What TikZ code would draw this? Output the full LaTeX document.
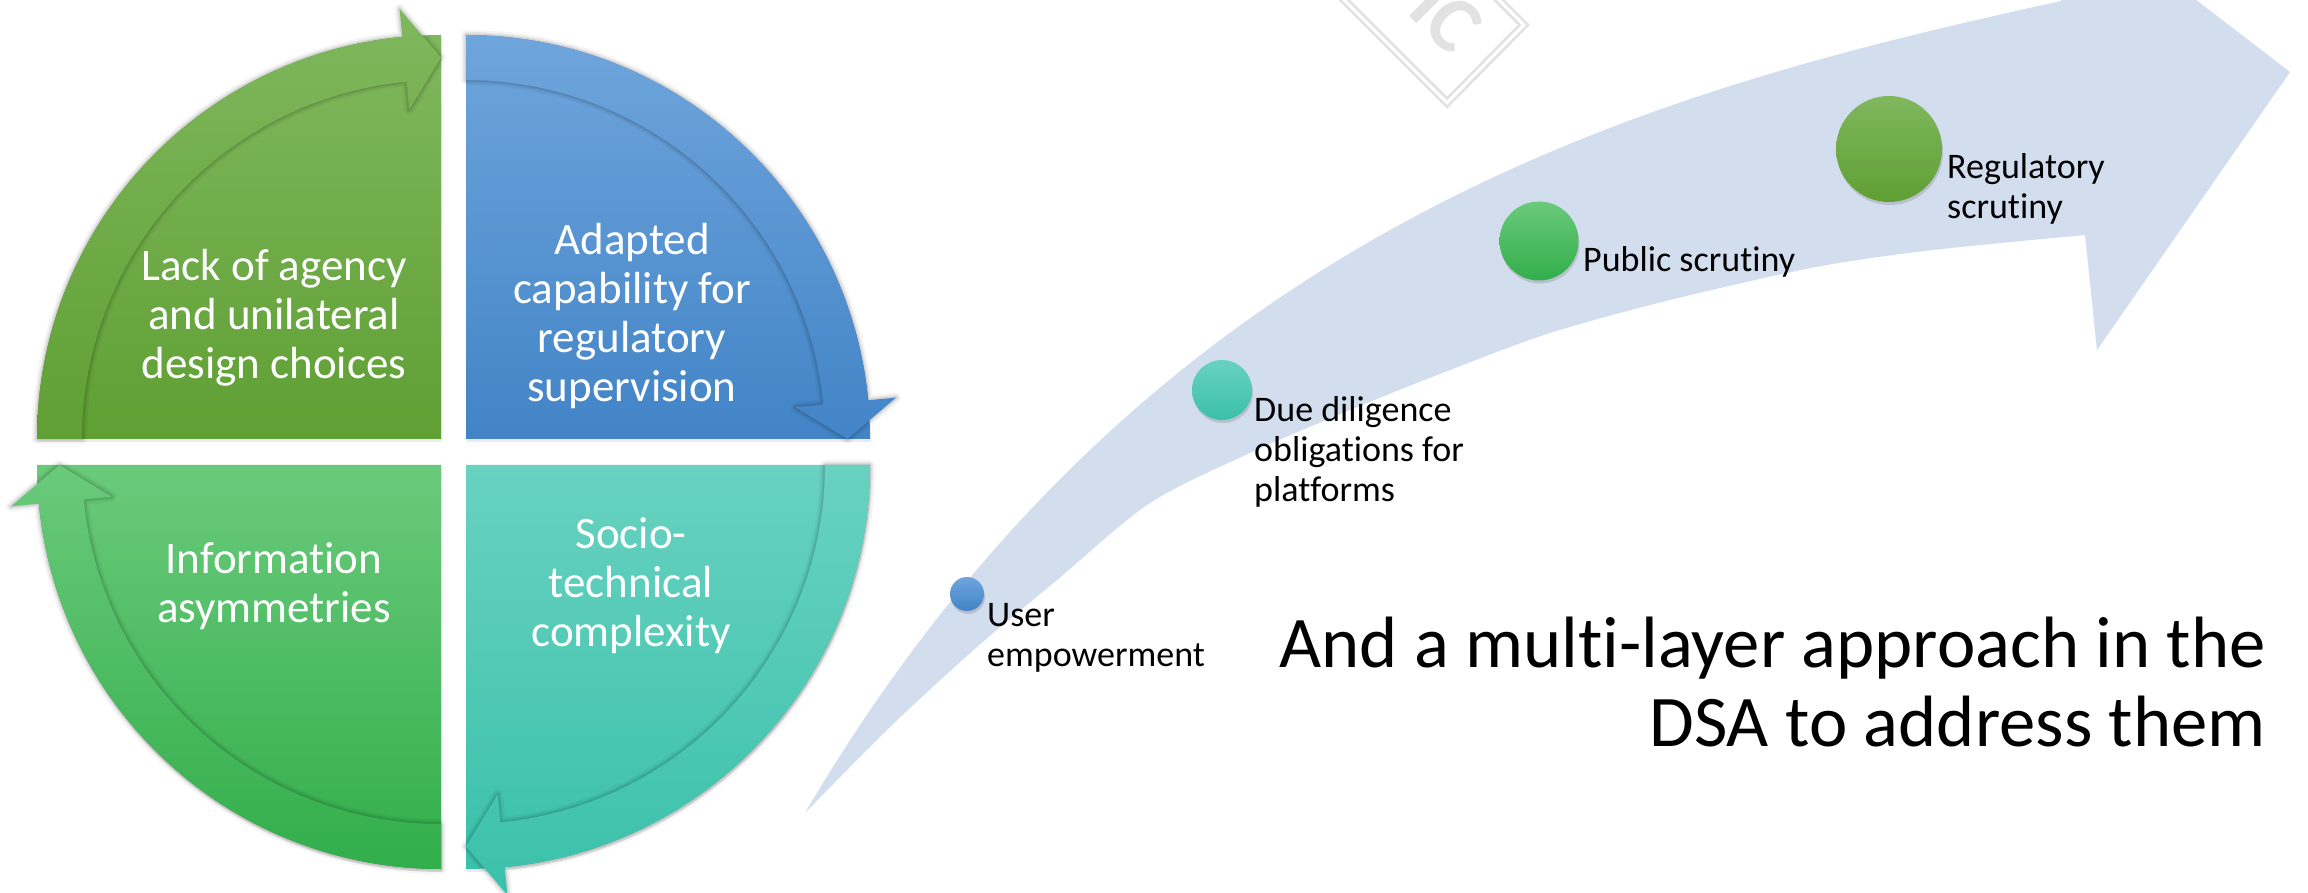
\documentclass[tikz,border=0pt]{standalone}
\usepackage{fontspec}
\setmainfont[Ligatures=NoCommon]{Carlito}
\usetikzlibrary{calc,shadows}
\definecolor{tlTop}{HTML}{80B85E}
\definecolor{tlBot}{HTML}{5F9F33}
\definecolor{trTop}{HTML}{6FA5DC}
\definecolor{trBot}{HTML}{4284C7}
\definecolor{brTop}{HTML}{69D2C1}
\definecolor{brBot}{HTML}{3AC1AA}
\definecolor{blTop}{HTML}{6ACA7B}
\definecolor{blBot}{HTML}{32AE4B}
\definecolor{bigArrow}{HTML}{D2DDEE}
\definecolor{wmark}{HTML}{E2E2E2}
\newcommand{\qfont}{\fontsize{45}{49}\selectfont}
\newcommand{\lfont}{\fontsize{36}{40}\selectfont}
\newcommand{\tfont}{\fontsize{72.7}{80}\selectfont}
% #1 corner, #2 start angle, #3 top colour, #4 bottom colour
\newcommand{\cyclequad}[4]{%
  \pgfmathsetmacro{\qs}{#2}%
  \pgfmathsetmacro{\qe}{#2-90}%
  \pgfmathsetmacro{\qh}{#2-84.5}%
  \begin{scope}[shift={#1}]
    \tikzset{bandp/.style={insert path={(\qs:404pt) arc[start angle=\qs, end angle=\qh, radius=404pt]
      -- (\qh:432pt) -- (\qe:381.5pt) -- (\qh:331pt) -- (\qh:359pt)
      arc[start angle=\qh, end angle=\qs, radius=359pt] -- cycle}}}
    \fill[black,opacity=0.08] (1,-3) -- ++(\qs:404pt) arc[start angle=\qs, end angle=\qe, radius=404pt] -- cycle;
    \shade[top color=#3, bottom color=#4] (0,0) -- (\qs:404pt) arc[start angle=\qs, end angle=\qe, radius=404pt] -- cycle;
    \foreach \w/\o in {10/0.04, 6/0.06, 3/0.08} {\draw[black, opacity=\o, line width=\w pt, line join=round, bandp];}
    \shade[top color=#3, bottom color=#4, bandp];
  \end{scope}}
\tikzset{
  qtext/.style={anchor=base, align=center, text=white, font=\qfont, inner sep=0pt},
  ltext/.style={anchor=base west, align=left, text=black, font=\lfont, inner sep=0pt},
  dot/.style={circle, inner sep=0pt, drop shadow={shadow xshift=1pt, shadow yshift=-3pt, opacity=0.3}}
}
\begin{document}
\begin{tikzpicture}[x=1pt, y=1pt]
\useasboundingbox (0,0) rectangle (2308,892);
\fill[white] (0,0) rectangle (2308,892);
\begin{scope}
  \clip (0,0) rectangle (2308,892);
  % watermark
  \draw[wmark, line width=2.5pt] (1328,1067) -- (1528,867) -- (1447,785) -- (1247,985);
  \draw[wmark, line width=2.5pt] (1320,1067) -- (1519.5,867) -- (1447,793.5) -- (1255,985);
  \node[text=wmark, rotate=-45, font=\fontsize{80}{80}\selectfont\bfseries, inner sep=0pt] (wm) at (1446,875) {IC};
  % big curved arrow
  \fill[bigArrow] plot[smooth] coordinates {(805,79) (890,165) (977,245) (1057,312) (1150,389) (1250,439) (1350,482) (1450,522) (1550,559) (1670,592) (1816,625) (1933,642) (2085,657)}
    -- (2097,542) -- (2290,820) -- (2049,1005) -- (2061,891)
    .. controls (1661,803) and (1155,674) .. (805,79) -- cycle;
\end{scope}
% cycle quadrants
\cyclequad{(441,453)}{180}{tlTop}{tlBot}
\cyclequad{(466,453)}{90}{trTop}{trBot}
\cyclequad{(466,427)}{0}{brTop}{brBot}
\cyclequad{(441,427)}{-90}{blTop}{blBot}
% base anchor of a multi-line node = baseline of its last line
\node[qtext] (q1) at (274,513) {Lack of agency\\and unilateral\\design choices};
\node[qtext] (q2) at (632,490) {Adapted\\capability for\\regulatory\\supervision};
\node[qtext] (q3) at (631,245) {Socio-\\technical\\complexity};
\node[qtext] (q4) at (274,269) {Information\\asymmetries};
% layer dots
\node[dot, minimum size=34pt, top color=trTop, bottom color=trBot] (d1) at (967,298) {};
\node[dot, minimum size=60pt, top color=brTop, bottom color=brBot] (d2) at (1222,502) {};
\node[dot, minimum size=79pt, top color=blTop, bottom color=blBot] (d3) at (1539,651) {};
\node[dot, minimum size=106pt, top color=tlTop, bottom color=tlBot] (d4) at (1889,743) {};
\node[ltext] (l1) at (987,225) {User\\empowerment};
\node[ltext] (l2) at (1254,390) {Due diligence\\obligations for\\platforms};
\node[ltext] (l3) at (1583,620) {Public scrutiny};
\node[ltext] (l4) at (1947,673) {Regulatory\\scrutiny};
\node[anchor=base east, align=right, font=\tfont, inner sep=0pt] (title) at (2266,145) {And a multi-layer approach in the\\DSA to address them};
\end{tikzpicture}
\end{document}
